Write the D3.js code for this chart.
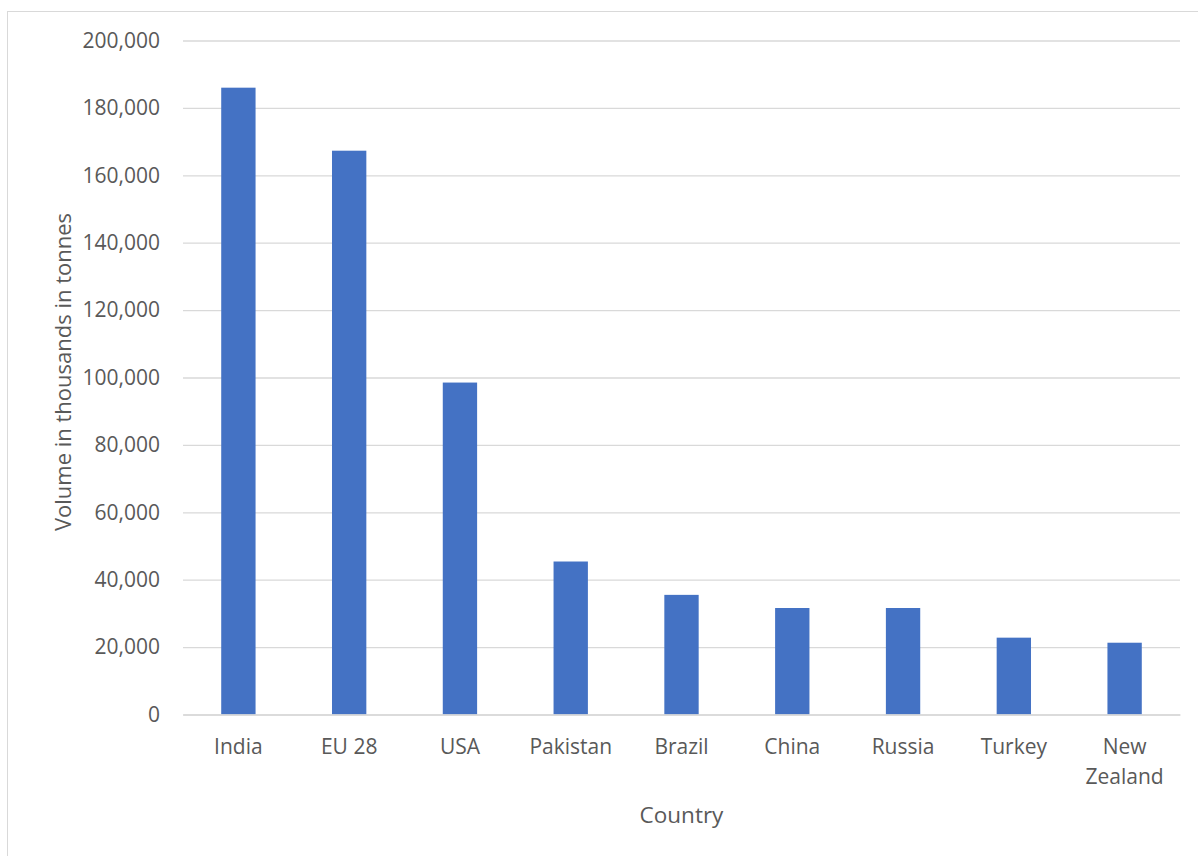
<!DOCTYPE html>
<html>
<head>
<meta charset="utf-8">
<script src="https://cdn.jsdelivr.net/npm/d3@7"></script>
<style>
  html, body { margin: 0; padding: 0; background: #fff; }
  svg { display: block; }
  text { font-family: "Open Sans", sans-serif; fill: #595959; }
</style>
</head>
<body>
<svg id="chart" width="1198" height="856"></svg>
<script>
const categories = ["India", "EU 28", "USA", "Pakistan", "Brazil", "China", "Russia", "Turkey", "New Zealand"];
const values = [186000, 167300, 98500, 45400, 35500, 31600, 31600, 22800, 21300];
const yTickValues = [0, 20000, 40000, 60000, 80000, 100000, 120000, 140000, 160000, 180000, 200000];
const yTitle = "Volume in thousands in tonnes";
const xTitle = "Country";

(function () {
const svg = d3.select("#chart");
const W = 1198, H = 856;
const mLeft = 183, mRight = 1180, mTop = 40.5, mBottom = 714.5;

// outer border
svg.append("rect")
  .attr("x", 7.5).attr("y", 11.5)
  .attr("width", W).attr("height", H)
  .attr("fill", "none").attr("stroke", "#d9d9d9").attr("stroke-width", 1);

const x = d3.scaleBand().domain(categories).range([mLeft, mRight])
  .paddingInner(0.69).paddingOuter(0.345);
const y = d3.scaleLinear().domain([0, 200000]).range([mBottom, mTop]);

// y axis with gridlines
const yAxis = svg.append("g")
  .attr("transform", `translate(${mLeft},0)`)
  .call(d3.axisLeft(y).tickValues(yTickValues).tickFormat(d3.format(","))
    .tickSize(-(mRight - mLeft)).tickPadding(23));
yAxis.select(".domain").remove();
yAxis.selectAll(".tick line").attr("stroke", "#d9d9d9").attr("stroke-width", 1.3);
yAxis.selectAll(".tick text")
  .style("font-family", "'Open Sans', sans-serif")
  .style("font-size", "21px").attr("fill", "#595959");

// bars
svg.append("g").selectAll("rect")
  .data(categories)
  .join("rect")
  .attr("x", d => x(d))
  .attr("width", x.bandwidth())
  .attr("y", (d, i) => y(values[i]))
  .attr("height", (d, i) => y(0) - y(values[i]))
  .attr("fill", "#4472c4");

// x axis
const xAxis = svg.append("g")
  .attr("transform", `translate(0,${mBottom})`)
  .call(d3.axisBottom(x).tickSize(0).tickPadding(0));
xAxis.select(".domain").attr("stroke", "#d9d9d9").attr("stroke-width", 1.3);
xAxis.selectAll(".tick text").each(function(d) {
  const t = d3.select(this);
  t.text(null).attr("dy", null).attr("y", 0)
    .style("font-family", "'Open Sans', sans-serif")
    .style("font-size", "21px").attr("fill", "#595959");
  const lines = (d === "New Zealand") ? d.split(" ") : [d];
  lines.forEach((w, i) => {
    t.append("tspan").attr("x", 0).attr("y", 39.5 + i * 30).text(w);
  });
});

// axis titles
svg.append("text")
  .attr("x", (mLeft + mRight) / 2).attr("y", 823)
  .attr("text-anchor", "middle")
  .style("font-size", "22.5px")
  .text(xTitle);

svg.append("text")
  .attr("transform", `translate(71,372) rotate(-90)`)
  .attr("text-anchor", "middle")
  .style("font-size", "22px")
  .text(yTitle);
})();
</script>
</body>
</html>
